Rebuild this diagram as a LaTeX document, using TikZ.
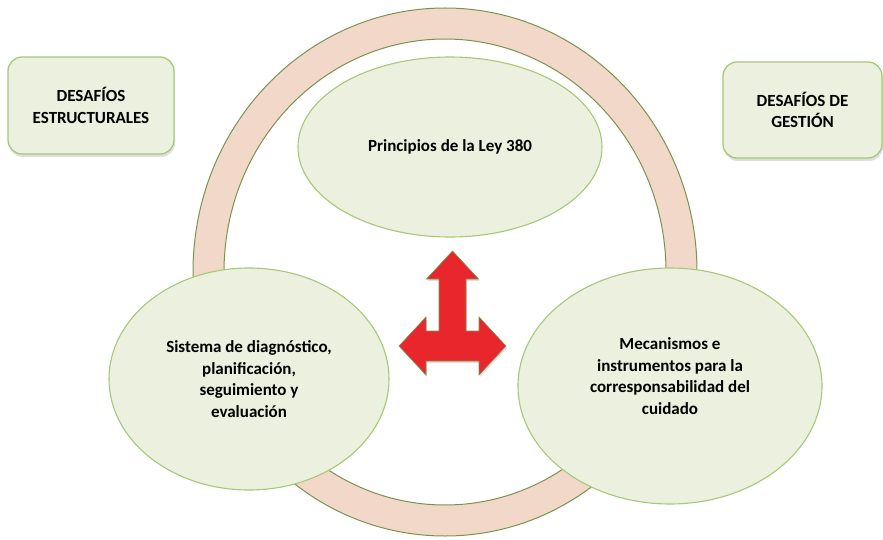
\documentclass[tikz,border=0pt]{standalone}
\usepackage{fontspec}
\setmainfont{Carlito}
\usetikzlibrary{shapes.geometric, shadows}
\definecolor{leaf}{HTML}{EBF1DE}
\definecolor{leafline}{HTML}{A6C878}
\definecolor{ringfill}{HTML}{F2D8C8}
\definecolor{ringline}{HTML}{7A9350}
\definecolor{arrowred}{HTML}{E9262C}
\tikzstyle{desafio} = [draw=leafline, fill=leaf, line width=1.3pt, rounded corners=14pt, align=center, font=\fontsize{17}{21.5}\selectfont\bfseries, drop shadow={shadow xshift=1pt, shadow yshift=-3pt, opacity=0.25}]
\tikzstyle{eje} = [ellipse, draw=leafline, fill=leaf, line width=1.1pt, inner sep=0pt, align=center, font=\fontsize{17}{21.5}\selectfont\bfseries]

\begin{document}
\begin{tikzpicture}[x=1pt, y=-1pt]

   \useasboundingbox (0,0) rectangle (883,540);

   % Ring behind the three axes
   \path[fill=ringfill, draw=ringline, line width=1pt, even odd rule]
      (445,272) ellipse [x radius=252pt, y radius=264pt]
      (445,272) ellipse [x radius=221pt, y radius=233pt];

   % Side boxes
   \node[desafio, minimum width=166pt, minimum height=97pt] (estructurales) at (91,105.5) {DESAFÍOS\\ESTRUCTURALES};
   \node[desafio, minimum width=159pt, minimum height=96pt] (gestion) at (802.5,110) {DESAFÍOS DE\\GESTIÓN};

   % The three axes
   \node[eje, minimum width=304pt, minimum height=180pt] (principios) at (450,147) {Principios de la Ley 380};
   \node[eje, minimum width=280pt, minimum height=222pt] (sistema) at (249,379) {Sistema de diagnóstico,\\planificación,\\seguimiento y\\evaluación};
   \node[eje, minimum width=304pt, minimum height=236pt] (mecanismos) at (670,386) {};
   \node[align=center, font=\fontsize{17}{21.5}\selectfont\bfseries] (mecanismostxt) at (670,376) {Mecanismos e\\instrumentos para la\\corresponsabilidad del\\cuidado};

   % Three-way arrow in the middle
   \path[fill=arrowred, draw=ringline, line width=0.6pt, drop shadow={shadow xshift=1pt, shadow yshift=-2pt, opacity=0.25}]
      (452.5,251) -- (478.5,279) -- (466,279) -- (466,331) -- (479,331) -- (479,317)
      -- (506,346) -- (479,375) -- (479,361) -- (426,361) -- (426,375) -- (399,346)
      -- (426,317) -- (426,331) -- (439,331) -- (439,279) -- (426.5,279) -- cycle;

\end{tikzpicture}
\end{document}
